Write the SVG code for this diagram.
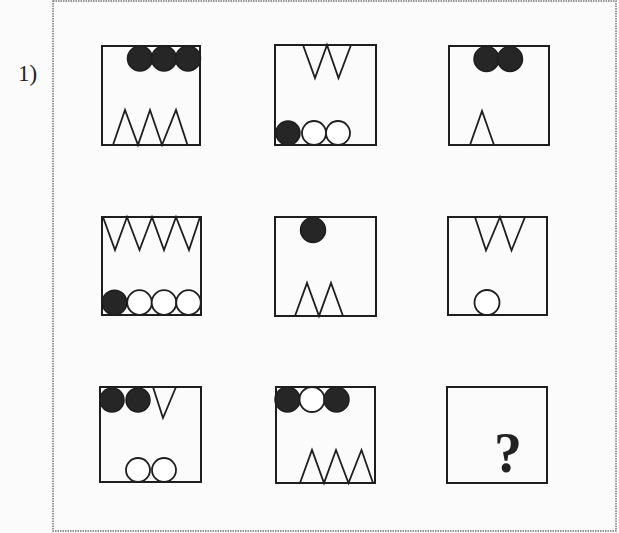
<svg xmlns="http://www.w3.org/2000/svg" width="619" height="533" viewBox="0 0 619 533">
<style>
.box{fill:none;stroke:#1e1e1e;stroke-width:2}
.tri{fill:none;stroke:#1e1e1e;stroke-width:1.8;stroke-linejoin:miter}
.blk{fill:#262626;stroke:#1e1e1e;stroke-width:1.5}
.wht{fill:#fff;stroke:#1e1e1e;stroke-width:1.8}
.frame{fill:none;stroke:#777;stroke-width:1.5;stroke-dasharray:1.5 1}
</style>
<rect width="619" height="533" fill="#fbfbfb"/>
<rect class="frame" x="53" y="1" width="563" height="530"/>
<text x="18" y="81" font-family="Liberation Serif, serif" font-size="23" fill="#222">1)</text>

<g id="cell1">
<rect class="box" x="102" y="46" width="98" height="99"/>
<circle class="blk" cx="140" cy="58.5" r="12.5"/>
<circle class="blk" cx="164" cy="58.5" r="12.5"/>
<circle class="blk" cx="188" cy="58.5" r="12.5"/>
<polyline class="tri" points="113,145 125,110 138,145 150,110 162,145 176,110 187.5,145"/>
</g>

<g id="cell2">
<rect class="box" x="275" y="45" width="101" height="100"/>
<polyline class="tri" points="303,45 315,78 327,45 338.5,78 351,45"/>
<circle class="blk" cx="288" cy="133" r="12"/>
<circle class="wht" cx="314" cy="133" r="12"/>
<circle class="wht" cx="338" cy="133" r="12"/>
</g>

<g id="cell3">
<rect class="box" x="449" y="46" width="100" height="99"/>
<circle class="blk" cx="486.5" cy="59" r="12.5"/>
<circle class="blk" cx="510" cy="59" r="12.5"/>
<polyline class="tri" points="470,145 482,111 494,145"/>
</g>

<g id="cell4">
<rect class="box" x="102" y="217" width="99" height="98"/>
<polyline class="tri" points="103,217 115,250 127,217 139.5,250 152,217 164,250 176,217 189,250 200,217"/>
<circle class="blk" cx="114.5" cy="302.5" r="12.3"/>
<circle class="wht" cx="139.5" cy="302.5" r="12.3"/>
<circle class="wht" cx="164" cy="302.5" r="12.3"/>
<circle class="wht" cx="188.5" cy="302.5" r="12.3"/>
</g>

<g id="cell5">
<rect class="box" x="275" y="217" width="101" height="99"/>
<circle class="blk" cx="313" cy="230" r="12.5"/>
<polyline class="tri" points="295,316 307,283 319,316 331,283 343,316"/>
</g>

<g id="cell6">
<rect class="box" x="448" y="217" width="99" height="98"/>
<polyline class="tri" points="475,217 486,250.5 500,217 511.5,250.5 525,217"/>
<circle class="wht" cx="487" cy="302.5" r="12.5"/>
</g>

<g id="cell7">
<rect class="box" x="100" y="387" width="101" height="95"/>
<circle class="blk" cx="112" cy="400" r="12"/>
<circle class="blk" cx="138" cy="400" r="12"/>
<polyline class="tri" points="153,387 163,418 176,387"/>
<circle class="wht" cx="138" cy="470" r="12"/>
<circle class="wht" cx="164" cy="470" r="12"/>
</g>

<g id="cell8">
<rect class="box" x="276" y="387" width="99" height="96"/>
<circle class="blk" cx="287.5" cy="399.5" r="12.5"/>
<circle class="wht" cx="312" cy="399.5" r="12.5"/>
<circle class="blk" cx="336.5" cy="399.5" r="12.5"/>
<polyline class="tri" points="300,483 312,450 324,483 336,450 348.5,483 361.5,450 373,483"/>
</g>

<g id="cell9">
<rect class="box" x="447" y="387" width="100" height="96"/>
<text x="508" y="472" text-anchor="middle" font-family="Liberation Serif, serif" font-weight="bold" font-size="56" fill="#222">?</text>
</g>

<g id="connectors"></g>
</svg>
